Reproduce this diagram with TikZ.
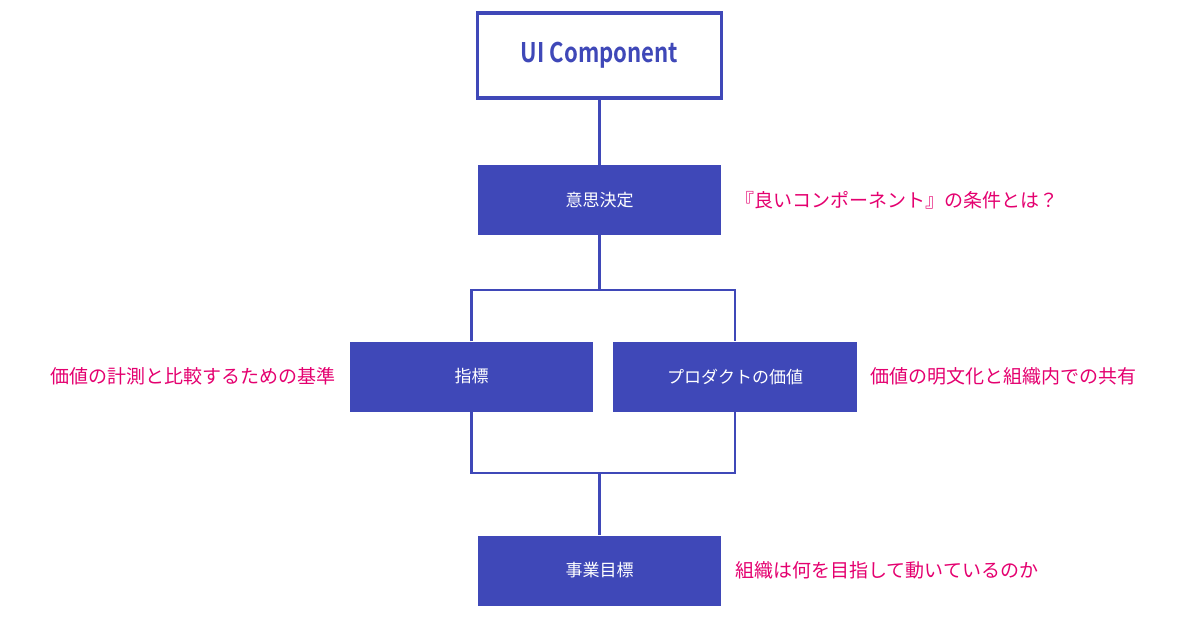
\documentclass[tikz,border=0pt]{standalone}
\usepackage{fontspec}
\setmainfont{Noto Sans CJK JP}
\newfontfamily\cjkbold{Noto Sans CJK JP Bold}
\usetikzlibrary{positioning}
\definecolor{uiblue}{HTML}{3F48B8}
\definecolor{uipink}{HTML}{E4006F}
\tikzset{box/.style={shape=rectangle, minimum width=243pt, minimum height=70pt,
  inner sep=0, fill=uiblue, text=white, font=\fontsize{17}{20}\selectfont},
  note/.style={text=uipink, inner sep=0, font=\fontsize{19}{22}\selectfont},
  link/.style={draw=uiblue, line width=2.2pt}}
\begin{document}
\begin{tikzpicture}[x=1pt, y=-1pt]
    \useasboundingbox (0,0) rectangle (1204,618);
    \node [box, fill=white, draw=uiblue, line width=3.5pt, text=uiblue,
      minimum width=244pt, minimum height=85pt,
      font=\cjkbold\fontsize{27}{30}\selectfont] (ui) at (599.5,55.5)
      {\addfontfeatures{FakeStretch=0.82}UI Component};
    \node [box] (dec) at (599.5,200) {意思決定};
    \node [box] (kpi) at (471.5,376.5) {指標};
    \node [box, minimum width=244pt] (val) at (735,376.5) {プロダクトの価値};
    \node [box] (goal) at (599.5,570.5) {事業目標};
    % labels
    \node [note, right=14pt of dec] {『良いコンポーネント』の条件とは？};
    \node [note, left=14pt of kpi] {価値の計測と比較するための基準};
    \node [note, right=13pt of val] {価値の明文化と組織内での共有};
    \node [note, right=14pt of goal] {組織は何を目指して動いているのか};
    % connectors
    \coordinate (split) at (599.5,290);
    \coordinate (merge) at (599.5,473);
    \draw [link] (ui) -- (dec);
    \draw [link] (dec) -- (split);
    \draw [link] (kpi.north) |- (split) -| (val.north);
    \draw [link] (kpi.south) |- (merge) -| (val.south);
    \draw [link] (merge) -- (goal);
\end{tikzpicture}
\end{document}
